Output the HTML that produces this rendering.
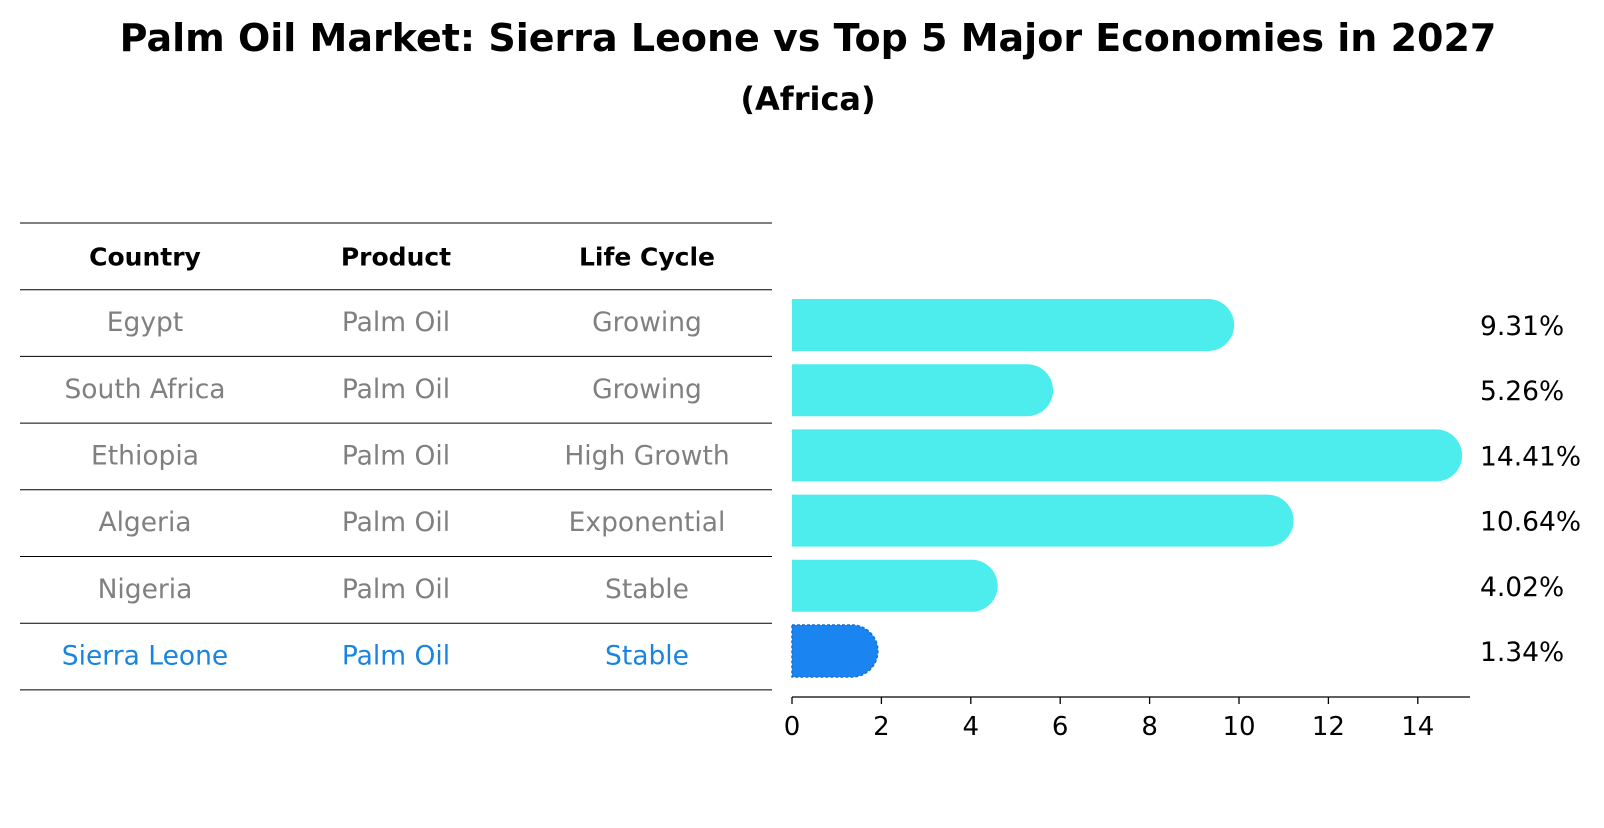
<!DOCTYPE html>
<html><head><meta charset="utf-8"><style>
body{margin:0;background:#fff;font-family:"Liberation Sans","DejaVu Sans",sans-serif}
svg text{font-family:"DejaVu Sans","Liberation Sans",sans-serif}
</style></head><body>
<svg width="1604" height="823" xmlns="http://www.w3.org/2000/svg">
<text x="808" y="51" text-anchor="middle" font-size="38" font-weight="bold">Palm Oil Market: Sierra Leone vs Top 5 Major Economies in 2027</text>
<text x="808" y="110" text-anchor="middle" font-size="32" font-weight="bold">(Africa)</text>
<g id="table"></g>
<g id="bars"></g>
</svg>
<script>
const countries=["Egypt","South Africa","Ethiopia","Algeria","Nigeria","Sierra Leone"];
const products=["Palm Oil","Palm Oil","Palm Oil","Palm Oil","Palm Oil","Palm Oil"];
const lifeCycles=["Growing","Growing","High Growth","Exponential","Stable","Stable"];
const values=[9.31,5.26,14.41,10.64,4.02,1.34];
const valueLabels=["9.31%","5.26%","14.41%","10.64%","4.02%","1.34%"];
const ticks=[0,2,4,6,8,10,12,14];
const NS="http://www.w3.org/2000/svg";
function mk(t,a,p){const e=document.createElementNS(NS,t);for(const k in a)e.setAttribute(k,a[k]);p.appendChild(e);return e;}
const x=v=>792+v*44.7;
const yc=i=>325+i*65.2;
const tbl=document.getElementById('table'),bars=document.getElementById('bars');
const rowH=66.7,top0=223,colX=[145,396,647];
for(let i=0;i<=7;i++){const l=mk('line',{x1:20,x2:772,y1:top0+i*rowH,y2:top0+i*rowH,stroke:'#000','stroke-width':1},tbl);

}
["Country","Product","Life Cycle"].forEach((h,j)=>{const t=mk('text',{x:colX[j],y:top0+rowH/2+9,'text-anchor':'middle','font-size':25,'font-weight':'bold'},tbl);t.textContent=h;

});
countries.forEach((c,i)=>{const last=i===countries.length-1;const col=last?'#1a85e0':'#808080';
[c,products[i],lifeCycles[i]].forEach((s,j)=>{const t=mk('text',{x:colX[j],y:top0+rowH*(i+1.5)+8,'text-anchor':'middle','font-size':26.5,fill:col},tbl);t.textContent=s;

});
const h=52,r=26,x0=x(0),x1=x(values[i]),y=yc(i);
const p=mk('path',{d:`M${x0},${y-h/2} H${x1} A${r},${r} 0 0 1 ${x1},${y+h/2} H${x0} Z`,fill:last?'#1a85f0':'#4deded'},bars);
if(last){p.setAttribute('stroke','#1a70d0');p.setAttribute('stroke-dasharray','3,2');p.setAttribute('stroke-width','1.5');}


const t=mk('text',{x:1480,y:y+10,'font-size':26.5},bars);t.textContent=valueLabels[i];

});
const ax=mk('line',{x1:792,x2:1470,y1:697,y2:697,stroke:'#000','stroke-width':1.3},bars);


ticks.forEach(v=>{const l=mk('line',{x1:x(v),x2:x(v),y1:697,y2:704,stroke:'#000','stroke-width':1.3},bars);


const t=mk('text',{x:x(v),y:735,'text-anchor':'middle','font-size':26},bars);t.textContent=v;

});
</script>
</body></html>
